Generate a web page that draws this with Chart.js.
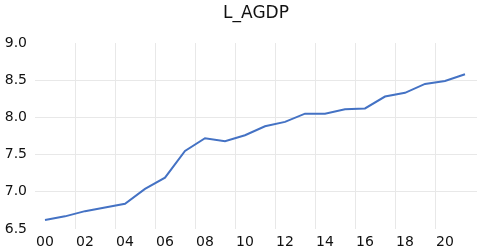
<!DOCTYPE html>
<html>
<head>
<meta charset="utf-8">
<script src="https://cdn.jsdelivr.net/npm/chart.js@4/dist/chart.umd.min.js"></script>
<style>
  html, body { margin: 0; padding: 0; background: #fff; }
  #wrap { width: 480px; height: 251px; }
</style>
</head>
<body>
<div id="wrap"><canvas id="agdpChart"></canvas></div>
<script>
const years = [2000, 2001, 2002, 2003, 2004, 2005, 2006, 2007, 2008, 2009, 2010,
               2011, 2012, 2013, 2014, 2015, 2016, 2017, 2018, 2019, 2020, 2021];
const lAgdp = [6.62, 6.67, 6.74, 6.79, 6.84, 7.04, 7.19, 7.55, 7.72, 7.68, 7.76,
               7.88, 7.94, 8.05, 8.05, 8.11, 8.12, 8.28, 8.33, 8.45, 8.49, 8.58];
const xLabelYears = [2000, 2002, 2004, 2006, 2008, 2010, 2012, 2014, 2016, 2018, 2020];
const yTicks = [6.5, 7.0, 7.5, 8.0, 8.5, 9.0];
const chartTitle = 'L_AGDP';

// title sits centred over the plot area, not the whole canvas
const plotTitle = {
    id: 'plotTitle',
    afterDraw(chart) {
        const { ctx, chartArea } = chart;
        ctx.save();
        ctx.font = '17px "DejaVu Sans"';
        ctx.fillStyle = '#111';
        ctx.textAlign = 'center';
        ctx.textBaseline = 'middle';
        ctx.fillText(chartTitle, (chartArea.left + chartArea.right) / 2, 13.5);
        ctx.restore();
    },
};

document.addEventListener('DOMContentLoaded', () => {
    const canvas = document.getElementById('agdpChart');
    const font = { family: 'DejaVu Sans', size: 14 };
    const gridColor = '#e8e8e8';

    new Chart(canvas, {
        type: 'line',
        data: {
            datasets: [{
                label: chartTitle,
                data: years.map((yr, i) => ({ x: yr, y: lAgdp[i] })),
                borderColor: '#4472c4',
                borderWidth: 2,
                pointRadius: 0,
                tension: 0,
                fill: false,
            }],
        },
        options: {
            responsive: true,
            maintainAspectRatio: false,
            animation: false,
            layout: { padding: { left: 0, right: 3, top: 43, bottom: 0 } },
            plugins: {
                legend: { display: false },
                tooltip: { enabled: false },
                title: { display: false },
            },
            scales: {
                x: {
                    type: 'linear',
                    min: 1999.5,
                    max: 2021.6,
                    afterBuildTicks: (axis) => {
                        axis.ticks = xLabelYears.map((v) => ({ value: v }));
                    },
                    afterFit: (axis) => { axis.height = 22; },
                    grid: { display: false, drawTicks: false },
                    border: { display: false },
                    ticks: {
                        color: '#111',
                        font,
                        padding: 5,
                        maxRotation: 0,
                        autoSkip: false,
                        callback: (v) => String(v % 100).padStart(2, '0'),
                    },
                },
                xGrid: {
                    type: 'linear',
                    position: 'bottom',
                    min: 1999.5,
                    max: 2021.6,
                    afterBuildTicks: (axis) => {
                        axis.ticks = xLabelYears.slice(0, -1).map((v) => ({ value: v + 1.5 }));
                    },
                    afterFit: (axis) => { axis.height = 0; },
                    grid: { color: gridColor, lineWidth: 1, drawTicks: false },
                    border: { display: false },
                    ticks: { display: false },
                },
                y: {
                    min: 6.5,
                    max: 9.0,
                    afterBuildTicks: (axis) => {
                        axis.ticks = yTicks.map((v) => ({ value: v }));
                    },
                    afterFit: (axis) => { axis.width = 35; },
                    grid: {
                        drawTicks: false,
                        color: (ctx) => (ctx.tick && (ctx.tick.value === 6.5 || ctx.tick.value === 9.0)) ? 'rgba(0,0,0,0)' : gridColor,
                    },
                    border: { display: false },
                    ticks: {
                        color: '#111',
                        font,
                        padding: 8,
                        callback: (v) => Number(v).toFixed(1),
                    },
                },
            },
        },
        plugins: [plotTitle],
    });
});
</script>
</body>
</html>
